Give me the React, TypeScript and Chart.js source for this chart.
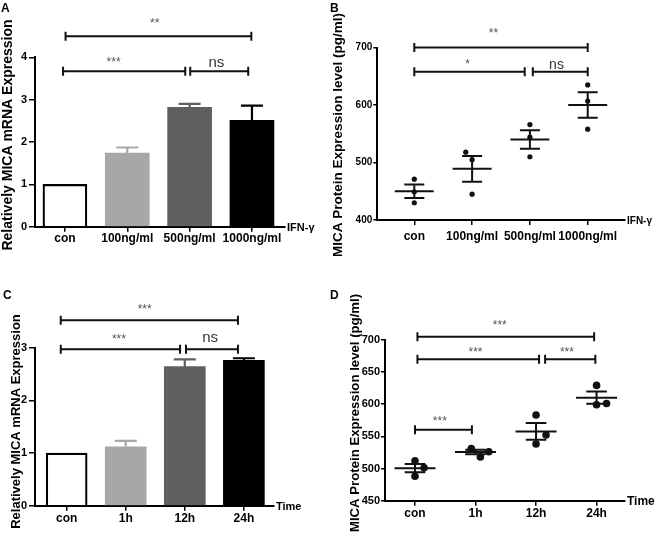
import React, { useEffect, useRef } from 'react';
import { Chart, registerables } from 'chart.js';

Chart.register(...registerables);

const FONT = "'Liberation Sans', Arial, Helvetica, sans-serif";

// ---------- Panel A: MICA mRNA vs IFN-γ dose ----------
const doseLabels = ['con', '100ng/ml', '500ng/ml', '1000ng/ml'];
const aMean = [1.0, 1.74, 2.82, 2.51];
const aSem = [0, 0.13, 0.08, 0.35];

// ---------- Panel B: MICA protein vs IFN-γ dose (replicates) ----------
const bCon = [471, 449, 430];
const b100 = [518, 505, 445];
const b500 = [566, 544, 510];
const b1000 = [635, 607, 558];
const bMean = [450, 489, 540, 600];
const bSem = [11.8, 22.5, 16.3, 22];

// ---------- Panel C: MICA mRNA vs time ----------
const timeLabels = ['con', '1h', '12h', '24h'];
const cMean = [1.0, 1.12, 2.64, 2.76];
const cSem = [0, 0.11, 0.14, 0.04];

// ---------- Panel D: MICA protein vs time (replicates) ----------
const dCon = [512, 501, 488];
const d1h = [531, 518, 526];
const d12h = [583, 552, 538];
const d24h = [629, 599, 601];
const dMean = [500.5, 525.5, 557.5, 610];
const dSem = [6.5, 3.5, 13, 9.5];

// horizontal jitter of replicate dots (category units)
const bJitter = [[0, 0, 0], [-0.11, 0, 0], [0, 0, 0], [0, 0, 0]];
const dJitter = [[0, 0.15, 0], [-0.07, 0.08, 0.22], [0, 0.165, 0], [0, 0, 0.165]];

// significance brackets (category units / value units)
const aBrackets = [
  { from: 0.01, to: 2.99, y: 4.5 },
  { from: -0.03, to: 1.93, y: 3.67 },
  { from: 2.01, to: 2.94, y: 3.67 },
];
const aMarks = [
  { text: '**', x: 1.44, y: 4.88 },
  { text: '***', x: 0.78, y: 3.95 },
  { text: 'ns', x: 2.43, y: 3.87 },
];
const bBrackets = [
  { from: 0, to: 3, y: 700 },
  { from: 0, to: 1.91, y: 658 },
  { from: 2.05, to: 3, y: 658 },
];
const bMarks = [
  { text: '**', x: 1.37, y: 730 },
  { text: '*', x: 0.92, y: 675 },
  { text: 'ns', x: 2.46, y: 669 },
];
const cBrackets = [
  { from: -0.1, to: 2.9, y: 3.52 },
  { from: -0.1, to: 1.92, y: 2.97 },
  { from: 2.02, to: 2.9, y: 2.97 },
];
const cMarks = [
  { text: '***', x: 1.32, y: 3.78 },
  { text: '***', x: 0.885, y: 3.21 },
  { text: 'ns', x: 2.43, y: 3.18 },
];
const dBrackets = [
  { from: 0.04, to: 2.96, y: 704.6 },
  { from: 0.04, to: 2.05, y: 669.7 },
  { from: 2.15, to: 2.98, y: 669.7 },
  { from: 0, to: 0.94, y: 560 },
];
const dMarks = [
  { text: '***', x: 1.4, y: 726 },
  { text: '***', x: 1.0, y: 685 },
  { text: '***', x: 2.51, y: 685 },
  { text: '***', x: 0.41, y: 577.6 },
];

const barColors = ['#ffffff', '#a7a7aa', '#5f5f5f', '#000000'];
const barErrColors = ['#000000', '#a7a7aa', '#5f5f5f', '#000000'];

type Spec = {
  kind: 'bar' | 'dot';
  letter: string;
  letterPos: [number, number];
  categories: string[];
  means: number[];
  sems: number[];
  groups?: number[][];
  jitter?: number[][];
  brackets: { from: number; to: number; y: number }[];
  marks: { text: string; x: number; y: number }[];
  yMin: number; yMax: number; yStep: number;
  xMin: number; xMax: number;
  yTitle: string; titleSize: number; titleX: number; titleY: number;
  yTickSize: number; yTickLen: number; yTickPad: number;
  xTickPad: number;
  axisEnd: string; axisEndSize: number;
  w: number; h: number;
  left: number; top: number; right: number; bottom: number;
  barThickness?: number;
  capHalf: number; meanHalf?: number; dotR?: number;
  starSize: number; nsSize: number;
};

function makeConfig(s: Spec): any {
  const plugin = {
    id: 'figureMarks' + s.letter,
    afterDatasetsDraw(chart: any) {
      const ctx = chart.ctx as CanvasRenderingContext2D;
      const xs = chart.scales.x;
      const ys = chart.scales.y;
      ctx.save();
      ctx.lineCap = 'butt';
      if (s.kind === 'bar') {
        s.means.forEach((m, i) => {
          const e = s.sems[i];
          if (!e) return;
          const cx = xs.getPixelForValue(i);
          const y0 = ys.getPixelForValue(m);
          const y1 = ys.getPixelForValue(m + e);
          ctx.strokeStyle = barErrColors[i];
          ctx.lineWidth = 2.2;
          ctx.beginPath();
          ctx.moveTo(cx, y0);
          ctx.lineTo(cx, y1);
          ctx.moveTo(cx - s.capHalf, y1);
          ctx.lineTo(cx + s.capHalf, y1);
          ctx.stroke();
        });
      } else {
        ctx.strokeStyle = '#111';
        ctx.lineWidth = 2;
        s.means.forEach((m, i) => {
          const e = s.sems[i];
          const cx = xs.getPixelForValue(i);
          const ym = ys.getPixelForValue(m);
          const yt = ys.getPixelForValue(m + e);
          const yb = ys.getPixelForValue(m - e);
          const mh = s.meanHalf || 20;
          ctx.beginPath();
          ctx.moveTo(cx - mh, ym);
          ctx.lineTo(cx + mh, ym);
          ctx.moveTo(cx - s.capHalf, yt);
          ctx.lineTo(cx + s.capHalf, yt);
          ctx.moveTo(cx - s.capHalf, yb);
          ctx.lineTo(cx + s.capHalf, yb);
          ctx.moveTo(cx, yt);
          ctx.lineTo(cx, yb);
          ctx.stroke();
        });
      }
      // brackets
      ctx.strokeStyle = '#111';
      ctx.lineWidth = 2;
      s.brackets.forEach((b) => {
        const x1 = xs.getPixelForValue(b.from);
        const x2 = xs.getPixelForValue(b.to);
        const y = ys.getPixelForValue(b.y);
        ctx.beginPath();
        ctx.moveTo(x1, y);
        ctx.lineTo(x2, y);
        ctx.moveTo(x1, y - 4.5);
        ctx.lineTo(x1, y + 4.5);
        ctx.moveTo(x2, y - 4.5);
        ctx.lineTo(x2, y + 4.5);
        ctx.stroke();
      });
      // significance labels
      s.marks.forEach((mk) => {
        const isNs = mk.text === 'ns';
        ctx.font = isNs ? `${s.nsSize}px ${FONT}` : `${s.starSize}px ${FONT}`;
        ctx.fillStyle = isNs ? '#333' : '#555';
        ctx.textAlign = 'center';
        ctx.textBaseline = 'alphabetic';
        const m = ctx.measureText(mk.text);
        const px = xs.getPixelForValue(mk.x);
        const py = ys.getPixelForValue(mk.y);
        ctx.fillText(mk.text, px, py + (m.actualBoundingBoxAscent - m.actualBoundingBoxDescent) / 2);
      });
      ctx.restore();
    },
    afterDraw(chart: any) {
      const ctx = chart.ctx as CanvasRenderingContext2D;
      const area = chart.chartArea;
      ctx.save();
      ctx.fillStyle = '#000';
      ctx.font = `bold 12px ${FONT}`;
      ctx.textAlign = 'left';
      ctx.textBaseline = 'top';
      ctx.fillText(s.letter, s.letterPos[0], s.letterPos[1]);
      ctx.font = `bold ${s.axisEndSize}px ${FONT}`;
      ctx.textBaseline = 'middle';
      ctx.fillText(s.axisEnd, area.right + 2, area.bottom + 1);
      // y-axis title
      ctx.translate(s.titleX, s.titleY);
      ctx.rotate(-Math.PI / 2);
      ctx.font = `bold ${s.titleSize}px ${FONT}`;
      ctx.textAlign = 'center';
      ctx.textBaseline = 'middle';
      ctx.fillText(s.yTitle, 0, 0);
      ctx.restore();
    },
  };

  let datasets: any[];
  if (s.kind === 'bar') {
    datasets = [
      {
        type: 'bar',
        data: s.means.map((v, i) => ({ x: i, y: v })),
        backgroundColor: barColors,
        borderColor: '#000',
        borderWidth: [2.2, 0, 0, 0],
        borderSkipped: 'start',
        barThickness: s.barThickness,
      },
    ];
  } else {
    const pts: { x: number; y: number }[] = [];
    (s.groups || []).forEach((g, i) =>
      g.forEach((v, j) => pts.push({ x: i + (s.jitter ? s.jitter[i][j] : 0), y: v }))
    );
    datasets = [
      {
        type: 'scatter',
        data: pts,
        pointRadius: s.dotR,
        pointBackgroundColor: '#111',
        pointBorderWidth: 0,
        showLine: false,
        clip: false,
      },
    ];
  }

  const cats = s.categories;
  return {
    type: s.kind === 'bar' ? 'bar' : 'scatter',
    data: { datasets },
    plugins: [plugin],
    options: {
      animation: false,
      responsive: false,
      devicePixelRatio: 1,
      layout: { padding: { top: s.top, left: 0, right: s.w - s.right, bottom: 0 } },
      plugins: { legend: { display: false }, tooltip: { enabled: false } },
      scales: {
        x: {
          type: 'linear',
          min: s.xMin,
          max: s.xMax,
          offset: false,
          afterBuildTicks: (sc: any) => {
            sc.ticks = cats.map((_, i) => ({ value: i }));
          },
          afterFit: (sc: any) => {
            sc.height = s.h - s.bottom;
          },
          ticks: {
            autoSkip: false,
            maxRotation: 0,
            minRotation: 0,
            padding: s.xTickPad,
            color: '#000',
            font: { family: FONT, size: 12, weight: 'bold' },
            callback: (v: number) => cats[Math.round(v)] ?? '',
          },
          grid: {
            display: true,
            offset: false,
            drawOnChartArea: false,
            drawTicks: true,
            tickLength: 5,
            color: '#000',
            lineWidth: 1.5,
          },
          border: { display: true, color: '#000', width: 2 },
        },
        y: {
          type: 'linear',
          min: s.yMin,
          max: s.yMax,
          afterFit: (sc: any) => {
            sc.width = s.left;
          },
          ticks: {
            stepSize: s.yStep,
            padding: s.yTickPad,
            color: '#000',
            font: { family: FONT, size: s.yTickSize, weight: 'bold' },
          },
          grid: {
            display: true,
            drawOnChartArea: false,
            drawTicks: true,
            tickLength: s.yTickLen,
            color: '#000',
            lineWidth: 1.5,
          },
          border: { display: true, color: '#000', width: 2 },
          title: { display: false, text: s.yTitle },
        },
      },
    },
  };
}

const specA: Spec = {
  kind: 'bar', letter: 'A', letterPos: [1, 3], categories: doseLabels,
  means: aMean, sems: aSem, brackets: aBrackets, marks: aMarks,
  yMin: 0, yMax: 4, yStep: 1, xMin: -0.48, xMax: 3.53,
  yTitle: 'Relatively MICA mRNA Expression', titleSize: 14, titleX: 8.5, titleY: 135,
  yTickSize: 11, yTickLen: 6, yTickPad: 2, xTickPad: 0,
  axisEnd: 'IFN-γ', axisEndSize: 11,
  w: 330, h: 270, left: 35, top: 57.3, right: 285, bottom: 226.7,
  barThickness: 44, capHalf: 11, starSize: 12, nsSize: 15,
};

const specB: Spec = {
  kind: 'dot', letter: 'B', letterPos: [0, 3], categories: doseLabels,
  means: bMean, sems: bSem, groups: [bCon, b100, b500, b1000], jitter: bJitter,
  brackets: bBrackets, marks: bMarks,
  yMin: 400, yMax: 700, yStep: 100, xMin: -0.64, xMax: 3.645,
  yTitle: 'MICA Protein Expression level (pg/ml)', titleSize: 13.5, titleX: 8, titleY: 135,
  yTickSize: 10, yTickLen: 4, yTickPad: 1, xTickPad: 4,
  axisEnd: 'IFN-γ', axisEndSize: 10,
  w: 326, h: 270, left: 47.3, top: 47.5, right: 295, bottom: 220,
  capHalf: 10, meanHalf: 19.5, dotR: 2.6, starSize: 12, nsSize: 14,
};

const specC: Spec = {
  kind: 'bar', letter: 'C', letterPos: [3, 20], categories: timeLabels,
  means: cMean, sems: cSem, brackets: cBrackets, marks: cMarks,
  yMin: 0, yMax: 3, yStep: 1, xMin: -0.536, xMax: 3.51,
  yTitle: 'Relatively MICA mRNA Expression', titleSize: 13, titleX: 16, titleY: 151.5,
  yTickSize: 11, yTickLen: 6, yTickPad: 2, xTickPad: 1,
  axisEnd: 'Time', axisEndSize: 11,
  w: 330, h: 274, left: 35, top: 77.7, right: 274, bottom: 235.7,
  barThickness: 41, capHalf: 11, starSize: 12, nsSize: 15,
};

const specD: Spec = {
  kind: 'dot', letter: 'D', letterPos: [0, 20], categories: timeLabels,
  means: dMean, sems: dSem, groups: [dCon, d1h, d12h, d24h], jitter: dJitter,
  brackets: dBrackets, marks: dMarks,
  yMin: 450, yMax: 700, yStep: 50, xMin: -0.496, xMax: 3.47,
  yTitle: 'MICA Protein Expression level (pg/ml)', titleSize: 13.2, titleX: 25, titleY: 143,
  yTickSize: 11, yTickLen: 4, yTickPad: 1, xTickPad: 1,
  axisEnd: 'Time', axisEndSize: 12,
  w: 326, h: 274, left: 55, top: 69.7, right: 295, bottom: 230.7,
  capHalf: 10.3, meanHalf: 20.5, dotR: 3.8, starSize: 12, nsSize: 14,
};

function Panel({ spec, x, y }: { spec: Spec; x: number; y: number }) {
  const ref = useRef<HTMLCanvasElement>(null);
  useEffect(() => {
    if (!ref.current) return;
    const chart = new Chart(ref.current, makeConfig(spec));
    return () => chart.destroy();
  }, [spec]);
  return (
    <canvas
      ref={ref}
      width={spec.w}
      height={spec.h}
      style={{ position: 'absolute', left: x, top: y, width: spec.w, height: spec.h, display: 'block' }}
    />
  );
}

export default function App() {
  return (
    <div
      style={{
        position: 'fixed',
        left: 0,
        top: 0,
        width: 656,
        height: 544,
        background: '#ffffff',
        overflow: 'hidden',
      }}
    >
      <Panel spec={specA} x={0} y={0} />
      <Panel spec={specB} x={330} y={0} />
      <Panel spec={specC} x={0} y={270} />
      <Panel spec={specD} x={330} y={270} />
    </div>
  );
}
